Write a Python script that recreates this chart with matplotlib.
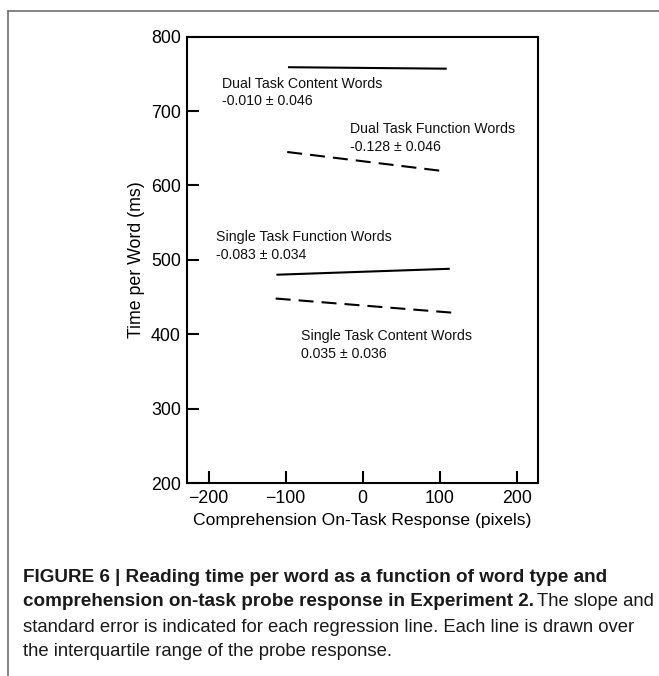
import matplotlib
matplotlib.use("Agg")
import matplotlib.pyplot as plt
from matplotlib.lines import Line2D

plt.rcParams['font.family'] = ['Liberation Sans', 'DejaVu Sans']

# ---- data ----
series_names = ["Dual Task Content", "Dual Task Function",
                "Single Task Function", "Single Task Content"]
x_start = [-97, -98, -112, -113]
x_end = [109, 107, 113, 116]
y_start = [759, 645, 480, 448]
y_end = [757, 619, 488, 429]
line_styles = ["solid", "dashed", "solid", "dashed"]

label_titles = ["Dual Task Content Words", "Dual Task Function Words",
                "Single Task Function Words", "Single Task Content Words"]
label_stats = ["-0.010 \u00b1 0.046", "-0.128 \u00b1 0.046",
               "-0.083 \u00b1 0.034", "0.035 \u00b1 0.036"]
label_x = [-182, -16, -190, -80]
label_y1 = [737, 676, 531, 397]
label_y2 = [713, 652, 507, 374]

x_ticks = [-200, -100, 0, 100, 200]
y_ticks = [200, 300, 400, 500, 600, 700, 800]

caption_bold_1 = "FIGURE 6 | Reading time per word as a function of word type and"
caption_bold_2 = "comprehension on-task probe response in Experiment 2."
caption_reg_2 = "The slope and"
caption_reg_3 = "standard error is indicated for each regression line. Each line is drawn over"
caption_reg_4 = "the interquartile range of the probe response."

W, H = 659, 676
fig = plt.figure(figsize=(W / 100, H / 100), dpi=100)

ax_l, ax_r, ax_t, ax_b = 187, 537.7, 36.7, 483
ax = fig.add_axes([ax_l / W, 1 - ax_b / H, (ax_r - ax_l) / W, (ax_b - ax_t) / H])
ax.set_xlim(-228, 227)
ax.set_ylim(200, 800)

for xs, xe, ys, ye, ls in zip(x_start, x_end, y_start, y_end, line_styles):
    if ls == "dashed":
        ax.plot([xs, xe], [ys, ye], color="black", lw=1.5, linestyle=(0, (7.2, 3.85)),
                solid_capstyle="butt", dash_capstyle="butt")
    else:
        ax.plot([xs, xe], [ys, ye], color="black", lw=1.5, solid_capstyle="butt")

for t, s, lx, y1, y2 in zip(label_titles, label_stats, label_x, label_y1, label_y2):
    ax.text(lx, y1, t, fontsize=10.2, ha="left", va="center", color="#111111")
    ax.text(lx, y2, s, fontsize=10.2, ha="left", va="center", color="#111111")

ax.set_xticks(x_ticks)
ax.set_yticks(y_ticks)
ax.tick_params(direction="in", length=8.6, width=1.5, labelsize=12.8,
               top=False, right=False, colors="black")
ax.tick_params(axis="y", pad=4.5)
ax.tick_params(axis="x", pad=5)
for sp in ax.spines.values():
    sp.set_linewidth(1.5)

ax.set_xlabel("Comprehension On-Task Response (pixels)", fontsize=12.6)
ax.set_ylabel("Time per Word (ms)", fontsize=12.8)
ax.xaxis.label.set_va("center")
ax.yaxis.label.set_va("center")
ax.xaxis.set_label_coords(0.5, (ax_b - 521) / (ax_b - ax_t))
ax.yaxis.set_label_coords((136.7 - ax_l) / (ax_r - ax_l), 0.5)

# outer frame (top and left only)
fig.add_artist(Line2D([8 / W, 1], [1 - 11 / H, 1 - 11 / H], transform=fig.transFigure,
                      color="#707070", lw=1.2))
fig.add_artist(Line2D([8 / W, 8 / W], [1 - 11 / H, 0], transform=fig.transFigure,
                      color="#707070", lw=1.2))

# caption
fig.canvas.draw()
renderer = fig.canvas.get_renderer()
cap_x = 23
cap_fam = ['Liberation Sans', 'DejaVu Sans']
line_y = [577, 602, 627, 652]


def fitted(text, y_px, target_w, weight, x_px=cap_x):
    t = fig.text(x_px / W, 1 - y_px / H, text, fontsize=12, fontweight=weight,
                 family=cap_fam, ha="left", va="center", color="#1a1a1a")
    w = t.get_window_extent(renderer).width
    t.set_fontsize(12 * target_w / w)
    return t


tb1 = fitted(caption_bold_1, line_y[0], 603 - cap_x, "bold")
bold_size = tb1.get_fontsize()
tr3 = fitted(caption_reg_3, line_y[2], 637 - cap_x, "normal")
reg_size = tr3.get_fontsize()

tb2 = fig.text(cap_x / W, 1 - line_y[1] / H, caption_bold_2, fontsize=bold_size,
               fontweight="bold", family=cap_fam, ha="left", va="center", color="#1a1a1a")
bw = tb2.get_window_extent(renderer).width
tr2 = fig.text((cap_x + bw + 3) / W, 1 - line_y[1] / H, caption_reg_2, fontsize=reg_size,
               family=cap_fam, ha="left", va="center", color="#1a1a1a")
tr4 = fig.text(cap_x / W, 1 - line_y[3] / H, caption_reg_4, fontsize=reg_size,
               family=cap_fam, ha="left", va="center", color="#1a1a1a")

fig.savefig("out.png", dpi=100)
